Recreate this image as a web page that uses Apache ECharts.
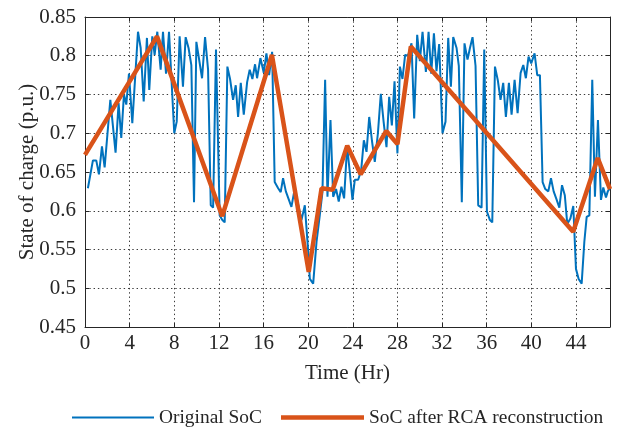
<!DOCTYPE html>
<html>
<head>
<meta charset="utf-8">
<script src="https://cdn.jsdelivr.net/npm/echarts@6/dist/echarts.min.js"></script>
<style>
html,body{margin:0;padding:0;background:#fff;}
#c{width:618px;height:428px;}
</style>
</head>
<body>
<div id="c"></div>
<script>
// Original SoC (time in hours, state of charge p.u.)
var origTime = [0.26,0.71,1.01,1.25,1.52,1.76,2.27,2.74,3.01,3.25,3.49,3.70,3.94,4.24,4.75,4.99,5.26,5.55,5.76,6.03,6.24,6.48,6.78,6.99,7.26,7.53,8.00,8.22,8.48,8.78,9.02,9.28,9.53,9.77,9.98,10.49,10.76,11.03,11.27,11.48,11.74,12.07,12.31,12.52,12.76,13.00,13.27,13.51,13.72,13.96,14.23,14.53,14.76,15.00,15.24,15.42,15.72,16.02,16.26,16.50,16.77,17.00,17.31,17.54,17.75,18.00,18.25,18.50,18.74,19.00,19.40,19.70,20.00,20.15,20.45,20.75,21.04,21.28,21.52,21.73,22.00,22.24,22.50,22.74,22.98,23.22,23.49,23.73,23.97,24.18,24.48,24.75,24.99,25.23,25.47,25.72,25.97,26.25,26.51,26.76,27.02,27.26,27.50,27.74,28.00,28.22,28.45,28.69,28.95,29.26,29.50,29.77,30.01,30.25,30.55,30.79,31.03,31.27,31.50,31.74,32.04,32.31,32.55,32.79,33.00,33.30,33.50,33.77,34.01,34.28,34.50,34.73,35.00,35.24,35.54,35.78,36.02,36.29,36.50,36.74,37.00,37.24,37.48,37.72,37.99,38.23,38.50,38.77,39.04,39.28,39.51,39.75,39.99,40.29,40.53,40.77,41.01,41.25,41.52,41.76,42.00,42.25,42.51,42.75,43.00,43.22,43.50,43.76,44.00,44.24,44.51,44.75,44.96,45.20,45.46,45.70,45.97,46.24,46.45,46.69,46.85,47.05];
var origSoC = [0.629,0.665,0.665,0.647,0.683,0.656,0.743,0.675,0.739,0.694,0.750,0.737,0.777,0.713,0.831,0.810,0.741,0.823,0.756,0.825,0.801,0.831,0.782,0.831,0.777,0.831,0.700,0.715,0.825,0.760,0.824,0.810,0.788,0.611,0.818,0.771,0.824,0.782,0.607,0.604,0.808,0.594,0.588,0.585,0.786,0.770,0.743,0.762,0.721,0.765,0.724,0.766,0.782,0.770,0.789,0.771,0.797,0.778,0.803,0.775,0.805,0.637,0.629,0.624,0.642,0.625,0.615,0.605,0.624,0.615,0.588,0.607,0.548,0.512,0.506,0.560,0.594,0.624,0.769,0.618,0.717,0.618,0.628,0.612,0.631,0.616,0.683,0.650,0.614,0.640,0.640,0.652,0.691,0.676,0.721,0.690,0.663,0.700,0.751,0.715,0.682,0.747,0.710,0.767,0.674,0.786,0.770,0.801,0.800,0.816,0.719,0.827,0.793,0.831,0.779,0.831,0.777,0.829,0.780,0.815,0.700,0.715,0.823,0.760,0.824,0.810,0.787,0.611,0.816,0.795,0.810,0.824,0.787,0.607,0.604,0.808,0.599,0.588,0.585,0.786,0.768,0.743,0.765,0.721,0.765,0.724,0.769,0.726,0.778,0.788,0.771,0.799,0.790,0.803,0.775,0.775,0.637,0.628,0.625,0.642,0.625,0.615,0.604,0.633,0.620,0.583,0.590,0.606,0.525,0.512,0.506,0.560,0.592,0.594,0.769,0.618,0.717,0.614,0.630,0.617,0.625,0.629];

// SoC after RCA reconstruction
var rcaTime = [0, 6.45, 12.3, 16.75, 20.05, 21.2, 22.2, 23.5, 24.7, 27.0, 28.0, 29.2, 43.75, 45.95, 47.05];
var rcaSoC  = [0.672, 0.825, 0.593, 0.801, 0.521, 0.629, 0.627, 0.684, 0.647, 0.703, 0.686, 0.812, 0.573, 0.668, 0.628];

var xTickInterval = 4;
var yTicks = {min: 0.45, max: 0.85, interval: 0.05};
var xRange = {min: 0, max: 47.05};

var seriesNames = ['Original SoC', 'SoC after RCA reconstruction'];

function pairs(ts, vs){ return ts.map(function(t,i){ return [t, vs[i]]; }); }

var chart = echarts.init(document.getElementById('c'), null, {renderer:'canvas'});
var axisColor = '#262626';
var font = '"Liberation Serif", "Times New Roman", serif';
var gridLine = {show:true, lineStyle:{color:'#3a3a3a', width:1, type:[1.4,2.9]}};
var legendText = {fontFamily:font, fontSize:19.4, color:'#262626'};

chart.setOption({
  animation:false,
  backgroundColor:'#ffffff',
  textStyle:{fontFamily:font},
  grid:{left:85, right:8, top:17, bottom:101, containLabel:false},
  legend:[{
    left:67, top:403, padding:5,
    itemWidth:82, itemHeight:2, icon:'rect',
    textStyle:legendText,
    data:[seriesNames[0]]
  },{
    left:276, top:403, padding:5,
    itemWidth:83, itemHeight:4.5, icon:'rect',
    textStyle:legendText,
    data:[seriesNames[1]]
  }],
  xAxis:[{
    type:'value', min:xRange.min, max:xRange.max, interval:xTickInterval,
    name:'Time (Hr)', nameLocation:'middle', nameGap:36, nameMoveOverlap:false,
    nameTextStyle:{fontFamily:font, fontSize:21, color:'#262626'},
    axisLine:{show:true, onZero:false, lineStyle:{color:axisColor, width:1}},
    axisTick:{show:true, inside:true, length:4, lineStyle:{color:axisColor}},
    axisLabel:{fontFamily:font, fontSize:21, color:'#262626', margin:6, showMaxLabel:false},
    splitLine:gridLine
  },{
    type:'value', position:'top', min:xRange.min, max:xRange.max, interval:xTickInterval,
    axisLine:{show:true, onZero:false, lineStyle:{color:axisColor, width:1}},
    axisTick:{show:true, inside:true, length:4, lineStyle:{color:axisColor}},
    axisLabel:{show:false}, splitLine:{show:false}
  }],
  yAxis:[{
    type:'value', min:yTicks.min, max:yTicks.max, interval:yTicks.interval,
    name:'State of charge (p.u.)', nameLocation:'middle', nameGap:47, nameMoveOverlap:false,
    nameTextStyle:{fontFamily:font, fontSize:21, color:'#262626'},
    axisLine:{show:true, onZero:false, lineStyle:{color:axisColor, width:1}},
    axisTick:{show:true, inside:true, length:4, lineStyle:{color:axisColor}},
    axisLabel:{fontFamily:font, fontSize:21, color:'#262626', margin:9},
    splitLine:gridLine
  },{
    type:'value', position:'right', min:yTicks.min, max:yTicks.max, interval:yTicks.interval,
    axisLine:{show:true, onZero:false, lineStyle:{color:axisColor, width:1}},
    axisTick:{show:true, inside:true, length:4, lineStyle:{color:axisColor}},
    axisLabel:{show:false}, splitLine:{show:false}
  }],
  series:[{
    name:seriesNames[0], type:'line', xAxisIndex:0, yAxisIndex:0,
    data:pairs(origTime, origSoC),
    showSymbol:false, symbol:'none',
    lineStyle:{color:'#0072BD', width:2},
    itemStyle:{color:'#0072BD'},
    z:2
  },{
    name:seriesNames[1], type:'line', xAxisIndex:0, yAxisIndex:0,
    data:pairs(rcaTime, rcaSoC),
    showSymbol:false, symbol:'none',
    lineStyle:{color:'#D95319', width:4.5},
    itemStyle:{color:'#D95319'},
    z:3
  }]
});
</script>
</body>
</html>
